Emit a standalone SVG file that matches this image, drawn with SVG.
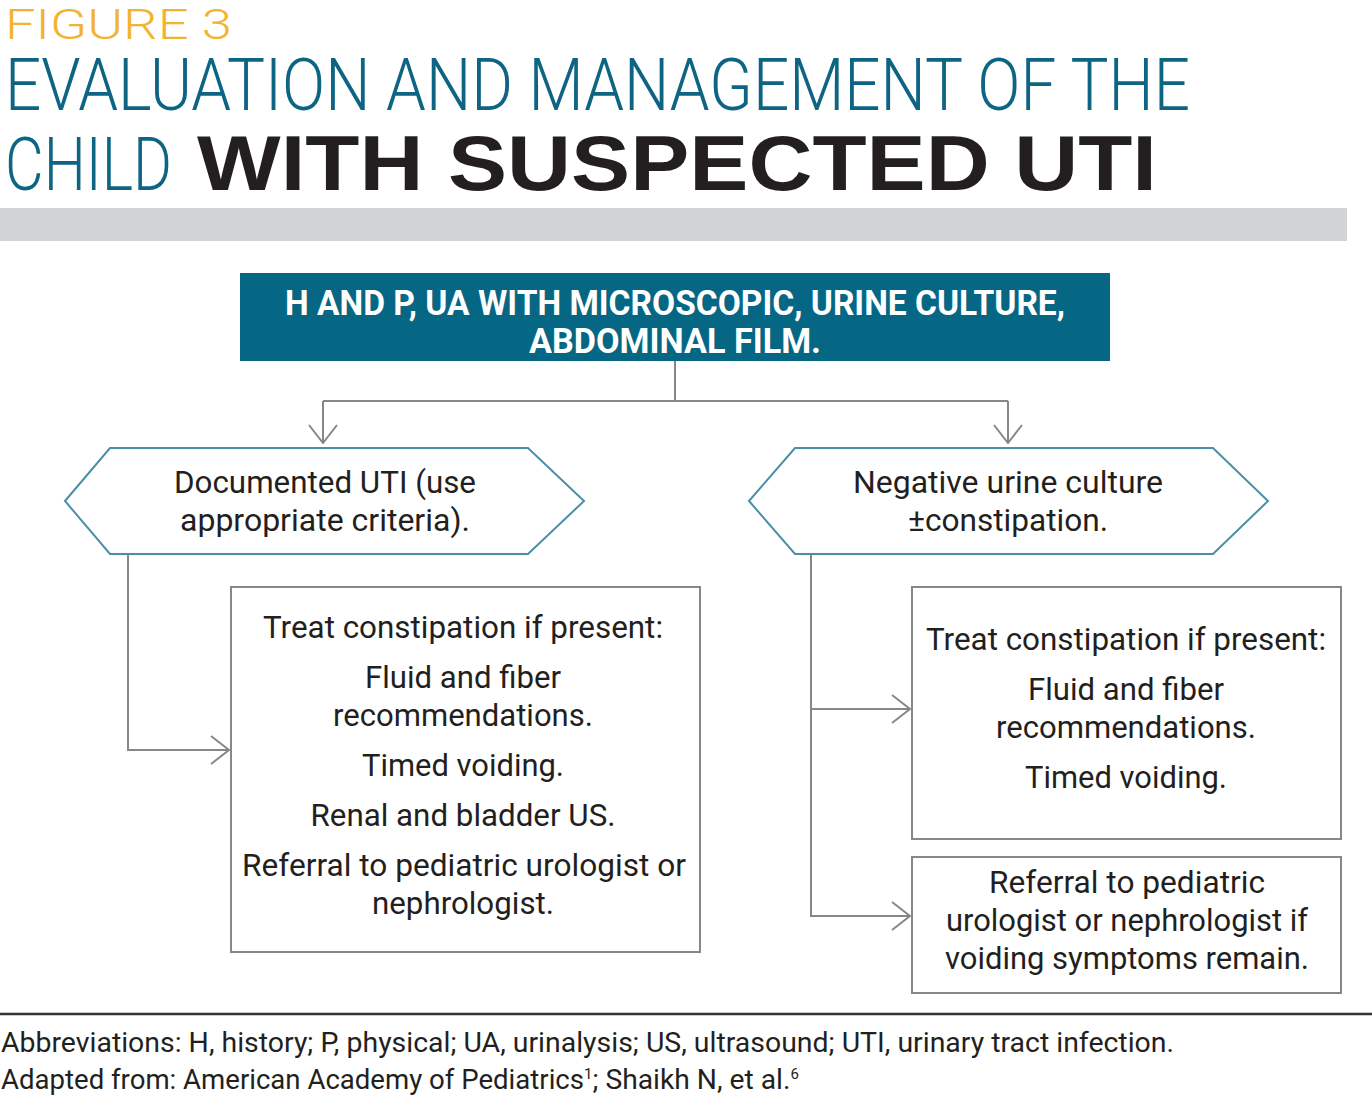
<svg xmlns="http://www.w3.org/2000/svg" width="1372" height="1096" viewBox="0 0 1372 1096">
<defs>
<style>
.t{font-family:Roboto,"Liberation Sans",sans-serif;fill:#231f20;}
.b{font-size:31px;text-anchor:middle;}
.ttl{font-family:Roboto,"Liberation Sans",sans-serif;font-weight:300;fill:#0e6483;}
.hd{font-family:Roboto,"Liberation Sans",sans-serif;font-weight:700;fill:#ffffff;font-size:35px;text-anchor:middle;}
.hex{fill:#ffffff;stroke:#4b8fa6;stroke-width:2;}
.box{fill:#ffffff;stroke:#878787;stroke-width:2;}
.con{fill:none;stroke:#878787;stroke-width:2;}
.ft{font-family:Roboto,"Liberation Sans",sans-serif;fill:#231f20;font-size:27px;}
</style>
<marker id="arr" viewBox="0 0 20 30" refX="19" refY="15" markerWidth="20" markerHeight="30" markerUnits="userSpaceOnUse" orient="auto">
<path d="M1,1 L19,15 L1,29" fill="none" stroke="#878787" stroke-width="2"/>
</marker>
</defs>
<rect width="1372" height="1096" fill="#ffffff"/>
<g id="title">
<text x="5" y="39" font-family="Roboto,'Liberation Sans',sans-serif" font-weight="300" font-size="42" fill="#f2b430" textLength="227" lengthAdjust="spacingAndGlyphs">FIGURE 3</text>
<text class="ttl" x="5" y="110" font-size="72" textLength="1185" lengthAdjust="spacingAndGlyphs">EVALUATION AND MANAGEMENT OF THE</text>
<text class="ttl" x="5" y="190" font-size="74" textLength="167" lengthAdjust="spacingAndGlyphs">CHILD</text>
<text x="197" y="190" font-family="'Liberation Sans',Arial,sans-serif" font-weight="700" font-size="77" fill="#231f20" textLength="960" lengthAdjust="spacingAndGlyphs">WITH SUSPECTED UTI</text>
<rect x="0" y="208" width="1347" height="33" fill="#d1d3d4"/>
</g>
<g id="connectors">
<path class="con" d="M675,361 V401"/>
<path class="con" d="M323,401 H1008"/>
<path class="con" d="M323,401 V443" marker-end="url(#arr)"/>
<path class="con" d="M1008,401 V443" marker-end="url(#arr)"/>
<path class="con" d="M128,554 V750 H229" marker-end="url(#arr)"/>
<path class="con" d="M811,554 V916 H910" marker-end="url(#arr)"/>
<path class="con" d="M811,709 H910" marker-end="url(#arr)"/>
</g>
<g id="node-start">
<rect x="240" y="273" width="870" height="88" fill="#066785"/>
<text class="hd" x="675" y="315" textLength="780" lengthAdjust="spacingAndGlyphs">H AND P, UA WITH MICROSCOPIC, URINE CULTURE,</text>
<text class="hd" x="675" y="353" textLength="292" lengthAdjust="spacingAndGlyphs">ABDOMINAL FILM.</text>
</g>
<g id="node-documented-uti">
<polygon class="hex" points="65,501 110,448 528,448 584,501 528,554 110,554"/>
<text class="t b" x="325" y="493" textLength="302" lengthAdjust="spacingAndGlyphs">Documented UTI (use</text>
<text class="t b" x="325" y="531" textLength="290" lengthAdjust="spacingAndGlyphs">appropriate criteria).</text>
</g>
<g id="node-negative-culture">
<polygon class="hex" points="749,501 795,448 1213,448 1268,501 1213,554 795,554"/>
<text class="t b" x="1008" y="493" textLength="310" lengthAdjust="spacingAndGlyphs">Negative urine culture</text>
<text class="t b" x="1008" y="531" textLength="200" lengthAdjust="spacingAndGlyphs">±constipation.</text>
</g>
<g id="node-left-treatment">
<rect class="box" x="231" y="587" width="469" height="365"/>
<text class="t b" x="463" y="638" textLength="400" lengthAdjust="spacingAndGlyphs">Treat constipation if present:</text>
<text class="t b" x="463" y="688" textLength="196" lengthAdjust="spacingAndGlyphs">Fluid and fiber</text>
<text class="t b" x="463" y="726" textLength="260" lengthAdjust="spacingAndGlyphs">recommendations.</text>
<text class="t b" x="463" y="776" textLength="202" lengthAdjust="spacingAndGlyphs">Timed voiding.</text>
<text class="t b" x="463" y="826" textLength="305" lengthAdjust="spacingAndGlyphs">Renal and bladder US.</text>
<text class="t b" x="464" y="876" textLength="444" lengthAdjust="spacingAndGlyphs">Referral to pediatric urologist or</text>
<text class="t b" x="463" y="914" textLength="182" lengthAdjust="spacingAndGlyphs">nephrologist.</text>
</g>
<g id="node-right-treatment">
<rect class="box" x="912" y="587" width="429" height="252"/>
<text class="t b" x="1126" y="650" textLength="400" lengthAdjust="spacingAndGlyphs">Treat constipation if present:</text>
<text class="t b" x="1126" y="700" textLength="196" lengthAdjust="spacingAndGlyphs">Fluid and fiber</text>
<text class="t b" x="1126" y="738" textLength="260" lengthAdjust="spacingAndGlyphs">recommendations.</text>
<text class="t b" x="1126" y="788" textLength="202" lengthAdjust="spacingAndGlyphs">Timed voiding.</text>
</g>
<g id="node-right-referral">
<rect class="box" x="912" y="857" width="429" height="136"/>
<text class="t b" x="1127" y="893" textLength="276" lengthAdjust="spacingAndGlyphs">Referral to pediatric</text>
<text class="t b" x="1127" y="931" textLength="362" lengthAdjust="spacingAndGlyphs">urologist or nephrologist if</text>
<text class="t b" x="1127" y="969" textLength="364" lengthAdjust="spacingAndGlyphs">voiding symptoms remain.</text>
</g>
<g id="footer">
<line x1="0" y1="1014" x2="1372" y2="1014" stroke="#333333" stroke-width="2.5"/>
<text class="ft" x="1" y="1052" textLength="1173" lengthAdjust="spacingAndGlyphs">Abbreviations: H, history; P, physical; UA, urinalysis; US, ultrasound; UTI, urinary tract infection.</text>
<text class="ft" x="1" y="1089"><tspan textLength="583" lengthAdjust="spacingAndGlyphs">Adapted from: American Academy of Pediatrics</tspan><tspan font-size="15" dy="-10">1</tspan><tspan dy="10" textLength="198" lengthAdjust="spacingAndGlyphs">; Shaikh N, et al.</tspan><tspan font-size="15" dy="-10">6</tspan></text>
</g>
</svg>
